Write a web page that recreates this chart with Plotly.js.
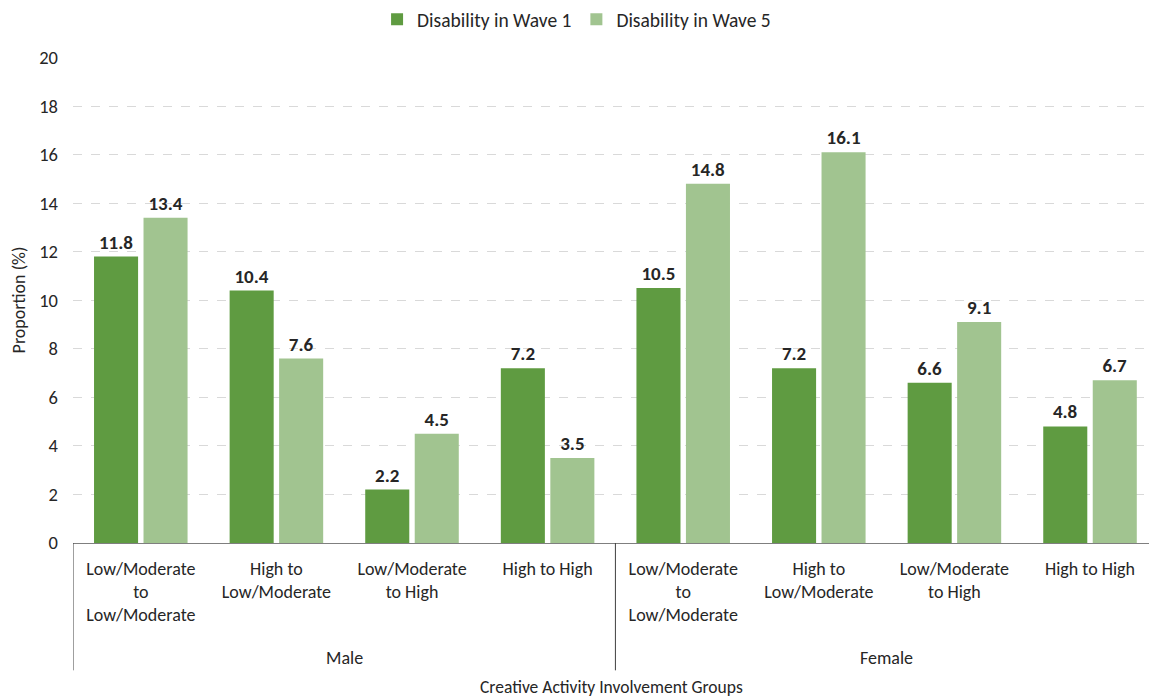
<!DOCTYPE html>
<html><head><meta charset="utf-8">
<script src="https://cdn.plot.ly/plotly-3.0.1.min.js"></script>
<style>body{margin:0;padding:0;}#chart{width:1149px;height:699px;}</style>
</head><body><div id="chart"></div>
<script>
const groups = ["Male", "Female"];
const categories = ["Low/Moderate<br>to<br>Low/Moderate", "High to<br>Low/Moderate", "Low/Moderate<br>to High", "High to High"];
const wave1 = [11.8, 10.4, 2.2, 7.2, 10.5, 7.2, 6.6, 4.8];
const wave5 = [13.4, 7.6, 4.5, 3.5, 14.8, 16.1, 9.1, 6.7];
const seriesNames = ["Disability in Wave 1", "Disability in Wave 5"];
const yTicks = [0, 2, 4, 6, 8, 10, 12, 14, 16, 18, 20];
const xTitle = "Creative Activity Involvement Groups";
const yTitle = "Proportion (%)";

const FONT = "Carlito, Lato, 'Open Sans', sans-serif";
const tickText = [];
groups.forEach(() => categories.forEach(c => tickText.push(c)));
const xs = tickText.map((_, i) => i);

const traces = [
  {type: "bar", name: seriesNames[0], x: xs, y: wave1, marker: {color: "#5f9b41"},
   text: wave1.map(v => v.toFixed(1)), textposition: "outside", cliponaxis: false,
   textfont: {family: FONT, size: 19, color: "#262626", weight: 700}},
  {type: "bar", name: seriesNames[1], x: xs, y: wave5, marker: {color: "#a1c490"},
   text: wave5.map(v => v.toFixed(1)), textposition: "outside", cliponaxis: false,
   textfont: {family: FONT, size: 19, color: "#262626", weight: 700}}
];

const perGroup = categories.length;
const shapes = [];
const annotations = [];
groups.forEach((g, gi) => {
  const x0 = gi * perGroup - 0.5;
  shapes.push({type: "line", xref: "x", yref: "paper", x0: x0, x1: x0, y0: 0, y1: -0.262,
    line: {color: "#404040", width: 1}});
  annotations.push({text: g, xref: "x", yref: "paper", x: gi * perGroup + (perGroup - 1) / 2,
    y: -0.237, showarrow: false, yanchor: "middle", font: {family: FONT, size: 18, color: "#262626"}});
});
annotations.push({text: xTitle, xref: "paper", yref: "paper", x: 0.5, y: -0.296,
  showarrow: false, yanchor: "middle", font: {family: FONT, size: 17.5, color: "#262626"}});

const layout = {
  width: 1149, height: 699,
  margin: {l: 73, r: 0, t: 57, b: 156},
  paper_bgcolor: "#ffffff", plot_bgcolor: "#ffffff",
  font: {family: FONT, size: 18, color: "#262626"},
  barmode: "group", bargap: 0.27, bargroupgap: 0.11,
  showlegend: true,
  legend: {orientation: "h", x: 0.468, xanchor: "center", y: 1.077, yanchor: "middle",
    font: {family: FONT, size: 19.5, color: "#262626"}, itemwidth: 30, traceorder: "normal"},
  xaxis: {range: [-0.5, 7.435], tickmode: "array", tickvals: xs, ticktext: tickText,
    showgrid: false, zeroline: false, showline: true, linecolor: "#7f7f7f", linewidth: 1,
    ticks: "", ticklabelstandoff: 9, tickfont: {family: FONT, size: 18, color: "#262626"}},
  yaxis: {range: [0, 20.02], tickmode: "array", tickvals: yTicks, showgrid: true,
    gridcolor: "#d9d9d9", griddash: "dash", gridwidth: 1, zeroline: false, showline: false,
    ticks: "", ticklabelstandoff: 14, tickfont: {family: FONT, size: 18.5, color: "#262626"},
    title: {text: yTitle, font: {family: FONT, size: 18, color: "#262626"}, standoff: 8}},
  shapes: shapes,
  annotations: annotations
};

Plotly.newPlot("chart", traces, layout, {displayModeBar: false, staticPlot: true});
</script></body></html>
